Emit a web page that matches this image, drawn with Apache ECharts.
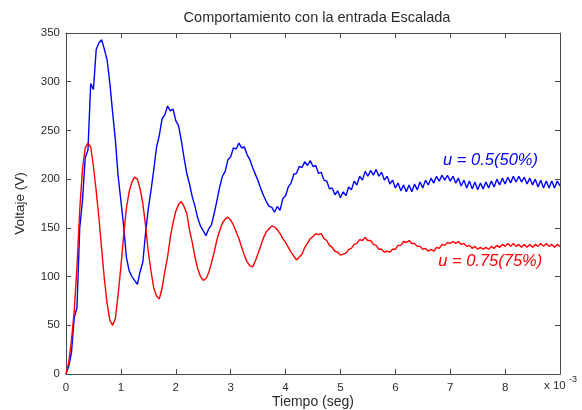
<!DOCTYPE html>
<html>
<head>
<meta charset="utf-8">
<script src="https://cdn.jsdelivr.net/npm/echarts@6/dist/echarts.min.js"></script>
<style>
  html, body { margin: 0; padding: 0; background: #ffffff; }
  #grafico { width: 582px; height: 410px; }
</style>
</head>
<body>
<div id="grafico"></div>
<script>
// Sample spacing of the recorded voltages, in milliseconds
const pasoMs = 0.05;

// Output voltage (V) for duty cycle u = 0.5, one value every 0.05 ms from 0 to 9 ms
const voltajeU050 = [
  0, 8, 22, 58, 68, 150, 178, 222, 230, 298, 292, 333, 340, 343, 333, 322, 298, 268, 240, 203,
  178, 152, 120, 106, 100, 96, 92, 105, 115, 145, 170, 189, 210, 233, 245, 262, 266, 275, 270, 272,
  260, 255, 240, 222, 206, 195, 182, 172, 160, 152, 147, 142, 149, 153, 165, 178, 192, 203, 208, 220,
  223, 232, 231, 237, 232, 233, 225, 220, 212, 205, 198, 190, 183, 177, 172, 171, 166, 172, 168, 180,
  183, 192, 196, 205, 206, 213, 212, 218, 214, 219, 213, 214, 206, 207, 199, 198, 190, 191, 184, 188,
  181, 187, 183, 192, 189, 198, 194, 203, 199, 208, 203, 209, 204, 210, 203, 207, 199, 203, 195, 199,
  191, 196, 188, 194, 187, 194, 187, 195, 189, 197, 191, 199, 194, 201, 196, 203, 198, 204, 199, 204,
  198, 203, 196, 201, 193, 199, 191, 198, 190, 197, 189, 196, 190, 197, 191, 198, 192, 200, 194, 201,
  195, 202, 196, 203, 197, 203, 197, 202, 195, 201, 194, 200, 192, 199, 191, 198, 191, 198, 191, 198,
  193
];

// Output voltage (V) for duty cycle u = 0.75, same sampling
const voltajeU075 = [
  0, 12, 35, 65, 110, 168, 210, 232, 237, 233, 213, 188, 160, 128, 97, 72, 55, 50, 57, 82,
  110, 142, 170, 187, 197, 202, 200, 190, 175, 152, 125, 105, 88, 80, 77, 88, 105, 120, 140, 155,
  167, 174, 177, 172, 165, 148, 135, 120, 108, 100, 96, 98, 104, 114, 125, 138, 147, 155, 159, 161,
  158, 153, 146, 139, 130, 122, 115, 111, 110, 116, 124, 132, 140, 146, 149, 152, 151, 148, 144, 139,
  135, 130, 125, 121, 117, 120, 123, 130, 134, 139, 141, 144, 143, 144, 139, 137, 132, 130, 126, 125,
  122, 123, 124, 128, 129, 133, 134, 138, 137, 140, 137, 137, 133, 132, 128, 128, 125, 126, 125, 128,
  128, 132, 132, 136, 135, 137, 134, 134, 131, 131, 128, 129, 126, 128, 126, 130, 129, 133, 132, 135,
  134, 136, 134, 136, 133, 134, 131, 132, 129, 131, 128, 130, 128, 130, 128, 131, 129, 132, 130, 133,
  131, 134, 131, 134, 131, 133, 130, 133, 130, 133, 130, 133, 131, 134, 131, 134, 131, 133, 130, 133,
  131
];

// Axis ranges and tick spacing
const limiteTiempo = [0, 9];
const pasoTiempo = 1;
const limiteVoltaje = [0, 350];
const pasoVoltaje = 50;

// Curve annotations: text and anchor point [ms, V]
const textoU050 = 'u = 0.5(50%)';
const anclaU050 = [6.87, 219];
const textoU075 = 'u = 0.75(75%)';
const anclaU075 = [6.78, 115];

const azul = '#0000ff';
const rojo = '#ff0000';
const fuente = '"Liberation Sans", Arial, Helvetica, sans-serif';

function aPares(valores) {
  return valores.map((v, i) => [+(i * pasoMs).toFixed(2), v]);
}

const chart = echarts.init(document.getElementById('grafico'), null, { renderer: 'canvas' });

const ejeComun = {
  axisLine: { show: true, onZero: false, lineStyle: { color: '#4a4a4a', width: 1 } },
  axisTick: { show: true, inside: true, length: 5, lineStyle: { color: '#4a4a4a' } },
  splitLine: { show: false },
  minorTick: { show: false },
  nameMoveOverlap: false
};

chart.setOption({
  animation: false,
  backgroundColor: '#ffffff',
  title: {
    text: 'Comportamiento con la entrada Escalada',
    left: 312,
    textAlign: 'center',
    top: 5,
    textStyle: { fontFamily: fuente, fontSize: 14.5, fontWeight: 'normal', color: '#2a2a2a' }
  },
  grid: {
    left: 66, right: 22, top: 33, bottom: 36,
    containLabel: false, outerBoundsMode: 'none'
  },
  xAxis: [
    Object.assign({}, ejeComun, {
      type: 'value', position: 'bottom',
      min: limiteTiempo[0], max: limiteTiempo[1], interval: pasoTiempo,
      name: 'Tiempo (seg)', nameLocation: 'middle', nameGap: 21,
      nameTextStyle: { fontFamily: fuente, fontSize: 14, color: '#2a2a2a' },
      axisLabel: {
        fontFamily: fuente, fontSize: 11.5, color: '#2a2a2a', margin: 8,
        formatter: v => (v === limiteTiempo[1] ? '' : String(v))
      }
    }),
    Object.assign({}, ejeComun, {
      type: 'value', position: 'top',
      min: limiteTiempo[0], max: limiteTiempo[1], interval: pasoTiempo,
      axisLabel: { show: false }
    })
  ],
  yAxis: [
    Object.assign({}, ejeComun, {
      type: 'value', position: 'left',
      min: limiteVoltaje[0], max: limiteVoltaje[1], interval: pasoVoltaje,
      name: 'Voltaje (V)', nameLocation: 'middle', nameGap: 39, nameRotate: 90,
      nameTextStyle: { fontFamily: fuente, fontSize: 13.5, color: '#2a2a2a' },
      axisLabel: { fontFamily: fuente, fontSize: 11.5, color: '#2a2a2a', margin: 6 }
    }),
    Object.assign({}, ejeComun, {
      type: 'value', position: 'right',
      min: limiteVoltaje[0], max: limiteVoltaje[1], interval: pasoVoltaje,
      axisLabel: { show: false }
    })
  ],
  series: [
    {
      name: textoU050, type: 'line', xAxisIndex: 0, yAxisIndex: 0,
      data: aPares(voltajeU050), showSymbol: false, smooth: false,
      lineStyle: { color: azul, width: 1.4 }, itemStyle: { color: azul }
    },
    {
      name: textoU075, type: 'line', xAxisIndex: 0, yAxisIndex: 0,
      data: aPares(voltajeU075), showSymbol: false, smooth: false,
      lineStyle: { color: rojo, width: 1.4 }, itemStyle: { color: rojo }
    }
  ]
});

// Curve labels and the axis exponent, placed through the chart's own coordinate system
const pU050 = chart.convertToPixel({ gridIndex: 0 }, anclaU050);
const pU075 = chart.convertToPixel({ gridIndex: 0 }, anclaU075);
const pEsquina = chart.convertToPixel({ gridIndex: 0 }, [limiteTiempo[1], limiteVoltaje[0]]);

chart.setOption({
  graphic: [
    {
      type: 'text', left: pU050[0], top: pU050[1] - 9,
      style: { text: textoU050, fill: azul, font: 'italic 16.5px ' + fuente }
    },
    {
      type: 'text', left: pU075[0], top: pU075[1] - 9,
      style: { text: textoU075, fill: rojo, font: 'italic 16.5px ' + fuente }
    },
    {
      type: 'text', left: pEsquina[0] - 16, top: pEsquina[1] + 6,
      style: { text: 'x 10', fill: '#2a2a2a', font: '11.5px ' + fuente }
    },
    {
      type: 'text', left: pEsquina[0] + 9, top: pEsquina[1] + 1,
      style: { text: '-3', fill: '#2a2a2a', font: '9px ' + fuente }
    }
  ]
});
</script>
</body>
</html>
